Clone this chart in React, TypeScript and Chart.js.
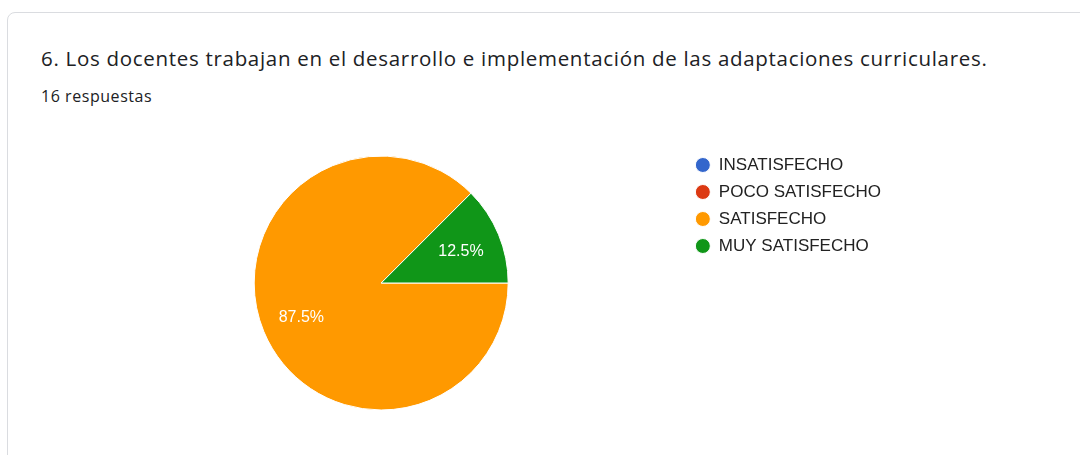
import React, { useEffect, useRef } from "react";
import { Chart, registerables } from "chart.js";

Chart.register(...registerables);

const title = "6. Los docentes trabajan en el desarrollo e implementación de las adaptaciones curriculares.";
const subtitle = "16 respuestas";
const categories = ["INSATISFECHO", "POCO SATISFECHO", "SATISFECHO", "MUY SATISFECHO"];
const counts = [0, 0, 14, 2];
const colors = ["#3366cc", "#dc3912", "#ff9900", "#109618"];

const sliceLabels = {
  id: "sliceLabels",
  afterDatasetsDraw(chart: any) {
    const ctx = chart.ctx;
    const meta = chart.getDatasetMeta(0);
    const data = chart.data.datasets[0].data as number[];
    const total = data.reduce((a, b) => a + b, 0);
    ctx.save();
    ctx.font = "16px 'Liberation Sans', Arial, sans-serif";
    ctx.fillStyle = "#ffffff";
    ctx.textAlign = "center";
    ctx.textBaseline = "middle";
    meta.data.forEach((arc: any, i: number) => {
      const v = data[i];
      if (!v) return;
      const p = arc.getProps(["x", "y", "startAngle", "endAngle", "outerRadius"], true);
      const mid = (p.startAngle + p.endAngle) / 2;
      const r = p.outerRadius * 0.68;
      const txt = ((v / total) * 100).toFixed(1) + "%";
      ctx.fillText(txt, p.x + Math.cos(mid) * r, p.y + Math.sin(mid) * r + 1.5);
    });
    ctx.restore();
  },
};

export default function App() {
  const ref = useRef<HTMLCanvasElement | null>(null);
  useEffect(() => {
    if (!ref.current) return;
    const chart = new Chart(ref.current, {
      type: "pie",
      data: {
        labels: categories,
        datasets: [
          {
            data: counts,
            backgroundColor: colors,
            borderColor: "#ffffff",
            borderWidth: 1,
            radius: 127,
          },
        ],
      },
      options: {
        animation: false,
        responsive: false,
        rotation: 90,
        layout: { padding: { left: 77, right: 189, top: 146.5, bottom: 35.5 } },
        plugins: {
          tooltip: { enabled: false },
          legend: {
            position: "right",
            align: "start",
            labels: {
              usePointStyle: true,
              pointStyle: "circle",
              boxWidth: 15,
              boxHeight: 10.6,
              padding: 10,
              color: "#222222",
              font: { family: "'Liberation Sans', Arial, sans-serif", size: 17 },
            },
          },
        },
      },
      plugins: [sliceLabels],
    });
    return () => chart.destroy();
  }, []);

  return (
    <div style={{ position: "fixed", left: 0, top: 0, width: 1080, height: 455, background: "#fff", overflow: "hidden" }}>
      <div
        style={{
          position: "absolute",
          left: 7,
          top: 12,
          width: 1200,
          height: 600,
          border: "1px solid #dadce0",
          borderRadius: 8,
          boxSizing: "border-box",
        }}
      />
      <div
        style={{
          position: "absolute",
          left: 41,
          top: 44,
          fontFamily: "'Open Sans', Roboto, sans-serif",
          fontSize: 20.5,
          letterSpacing: 0.7,
          color: "#202124",
          whiteSpace: "nowrap",
          lineHeight: "28px",
        }}
      >
        {title}
      </div>
      <div
        style={{
          position: "absolute",
          left: 41,
          top: 85,
          fontFamily: "'Open Sans', Roboto, sans-serif",
          fontSize: 16,
          letterSpacing: 0.55,
          color: "#202124",
          whiteSpace: "nowrap",
          lineHeight: "22px",
        }}
      >
        {subtitle}
      </div>
      <canvas ref={ref} width={1080} height={455} style={{ position: "absolute", left: 0, top: 0, width: 1080, height: 455 }} />
    </div>
  );
}
